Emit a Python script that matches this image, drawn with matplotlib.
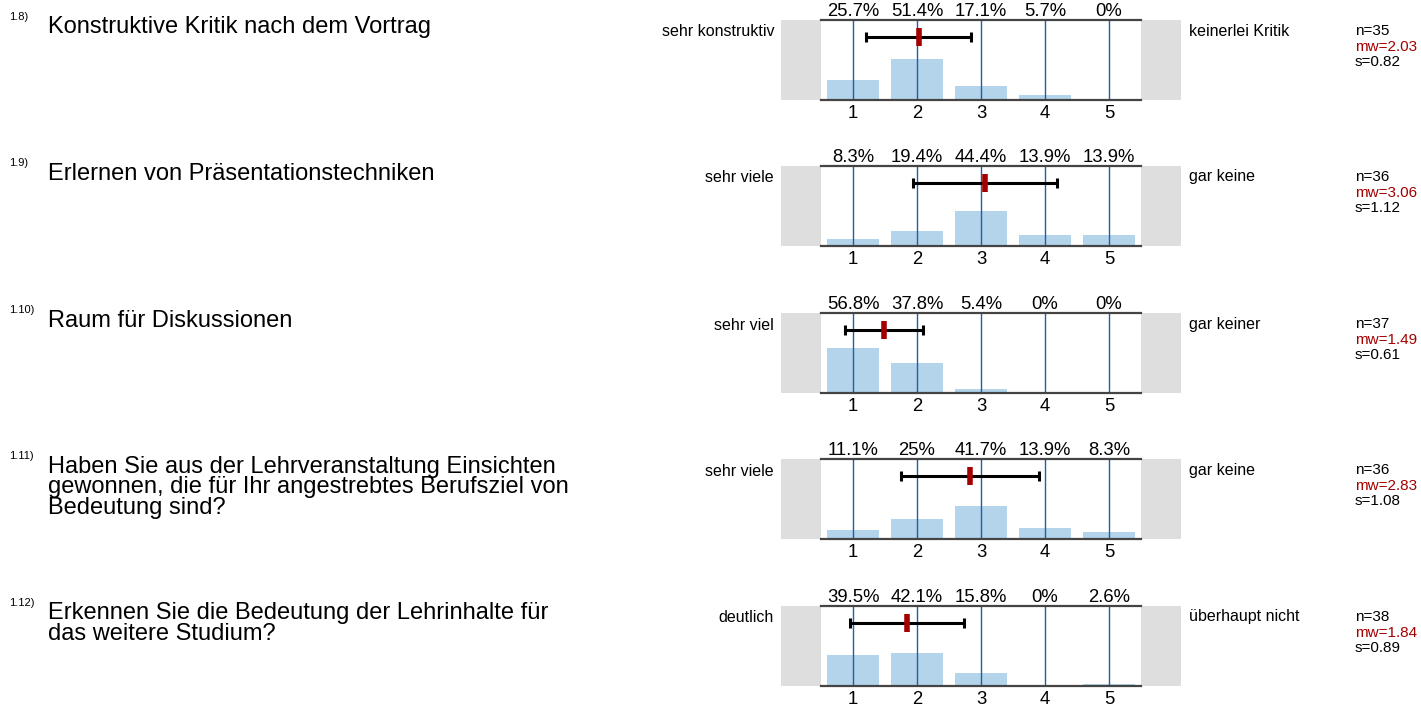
import matplotlib
matplotlib.use("Agg")
import matplotlib.pyplot as plt
import matplotlib.patches as patches
import numpy as np

plt.rcParams['font.family'] = ['Liberation Sans', 'DejaVu Sans']

# --- data ---
numbers = ["1.8)", "1.9)", "1.10)", "1.11)", "1.12)"]
questions = [
    "Konstruktive Kritik nach dem Vortrag",
    "Erlernen von Präsentationstechniken",
    "Raum für Diskussionen",
    "Haben Sie aus der Lehrveranstaltung Einsichten\ngewonnen, die für Ihr angestrebtes Berufsziel von\nBedeutung sind?",
    "Erkennen Sie die Bedeutung der Lehrinhalte für\ndas weitere Studium?",
]
left_labels = ["sehr konstruktiv", "sehr viele", "sehr viel", "sehr viele", "deutlich"]
right_labels = ["keinerlei Kritik", "gar keine", "gar keiner", "gar keine", "überhaupt nicht"]
scale = [1, 2, 3, 4, 5]
pct_1_8 = [25.7, 51.4, 17.1, 5.7, 0]
pct_1_9 = [8.3, 19.4, 44.4, 13.9, 13.9]
pct_1_10 = [56.8, 37.8, 5.4, 0, 0]
pct_1_11 = [11.1, 25, 41.7, 13.9, 8.3]
pct_1_12 = [39.5, 42.1, 15.8, 0, 2.6]
percents = [pct_1_8, pct_1_9, pct_1_10, pct_1_11, pct_1_12]
n_vals = [35, 36, 37, 36, 38]
mw_vals = [2.03, 3.06, 1.49, 2.83, 1.84]
s_vals = [0.82, 1.12, 0.61, 1.08, 0.89]

W, H = 1421, 704
fig = plt.figure(figsize=(W / 100, H / 100), dpi=100)

bar_col = '#b3d4ea'
line_col = '#1f5fa3'
red = '#a50000'
gray = '#dedede'

ax_left, ax_right = 821, 1141
box_w = 40
panel_h = 80
tops = [20, 166, 313, 459, 606]


def fx(px):
    return px / W


def fy(py):
    return 1 - py / H


for i in range(5):
    top = tops[i]
    bot = top + panel_h
    # gray boxes on both sides
    for x0 in (ax_left - box_w, ax_right):
        fig.add_artist(patches.Rectangle((fx(x0), fy(bot)), fx(box_w), panel_h / H,
                                         transform=fig.transFigure, facecolor=gray,
                                         edgecolor='none', zorder=0))

    ax = fig.add_axes([fx(ax_left), fy(bot), fx(ax_right - ax_left), panel_h / H])
    ax.set_xlim(0.5, 5.5)
    ax.set_ylim(0, 101)
    ax.bar(scale, percents[i], width=0.8, color=bar_col, zorder=1)
    for v in scale:
        ax.axvline(v, color=line_col, lw=1, zorder=2)
    # mean and std
    m, s = mw_vals[i], s_vals[i]
    ax.errorbar(m, 79, xerr=s, color='black', lw=2.2, capsize=3.9, capthick=2.2, zorder=3)
    ax.plot(m, 79, marker='|', color=red, ms=13, mew=4, zorder=4)

    for side in ('left', 'right'):
        ax.spines[side].set_visible(False)
    for side in ('top', 'bottom'):
        ax.spines[side].set_color('#444444')
        ax.spines[side].set_linewidth(1.6)
    ax.set_xticks(scale)
    ax.set_xticklabels([str(v) for v in scale], fontsize=13.3)
    ax.tick_params(axis='x', length=0, pad=3.5)
    ax.set_yticks([])
    ax.patch.set_alpha(0)

    # percent labels
    for v, p in zip(scale, percents[i]):
        lbl = f"{p:g}%"
        ax.text(v, 1.0, lbl, transform=ax.get_xaxis_transform(), ha='center',
                va='bottom', fontsize=13.3)

    # side labels
    fig.text(fx(774), fy(top + 12), left_labels[i], ha='right', va='center', fontsize=11.5)
    fig.text(fx(1189), fy(top + 11), right_labels[i], ha='left', va='center', fontsize=11.5)
    fig.text(fx(1355), fy(top + 11), f"n={n_vals[i]}", ha='left', va='center', fontsize=11)
    fig.text(fx(1355), fy(top + 27), f"mw={mw_vals[i]:.2f}", ha='left', va='center',
             fontsize=11, color=red)
    fig.text(fx(1355), fy(top + 42), f"s={s_vals[i]:.2f}", ha='left', va='center', fontsize=11)

    # question
    fig.text(fx(9), fy(top - 3), numbers[i], ha='left', va='center', fontsize=8)
    fig.text(fx(48), fy(top - 3.5), questions[i], ha='left', va='top', fontsize=17,
             linespacing=0.925)

fig.savefig("out.png", dpi=100)
